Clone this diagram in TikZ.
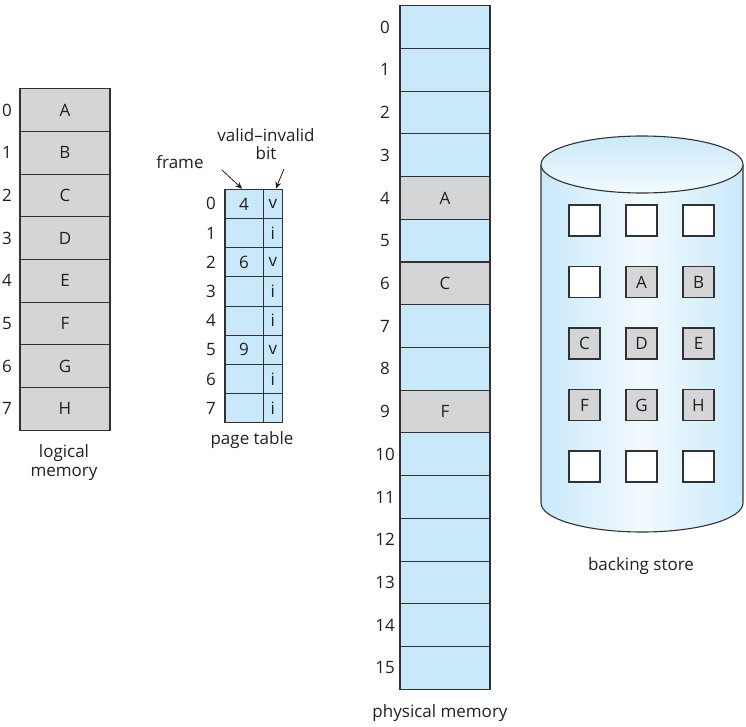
\documentclass[tikz,border=0pt]{standalone}
\usepackage{fontspec}
\setmainfont{Open Sans}
\usetikzlibrary{arrows.meta}
\definecolor{cellblue}{RGB}{201,233,250}
\definecolor{cellgray}{RGB}{212,213,215}
\definecolor{edge}{RGB}{50,50,52}
\definecolor{ink}{RGB}{35,31,32}
\begin{document}
\begin{tikzpicture}[x=1pt,y=-1pt,
  every node/.style={font=\fontsize{17}{20}\selectfont, text=ink},
  lmcell/.style={draw=edge, line width=1.1pt, fill=cellgray, minimum width=90pt, minimum height=42.7pt, inner sep=0pt},
  pmcell/.style={draw=edge, line width=1.1pt, fill=cellblue, minimum width=90pt, minimum height=42.73pt, inner sep=0pt},
  pmgray/.style={pmcell, fill=cellgray},
  ptframe/.style={draw=edge, line width=1.1pt, fill=cellblue, minimum width=38.3pt, minimum height=29.2pt, inner sep=0pt},
  ptbit/.style={draw=edge, line width=1.1pt, fill=cellblue, minimum width=19pt, minimum height=29.2pt, inner sep=0pt},
  bsq/.style={draw=edge, line width=1.1pt, fill=white, minimum size=31pt, inner sep=0pt},
  bsqg/.style={bsq, fill=cellgray},
  num/.style={inner sep=0pt},
  lbl/.style={inner sep=0pt, align=center},
  ptr/.style={-{Stealth[length=7pt,width=6pt]}, line width=0.8pt, draw=ink}
]
\useasboundingbox (0,0) rectangle (746,726);

% logical memory
\foreach \i/\t in {0/A,1/B,2/C,3/D,4/E,5/F,6/G,7/H}{
  \node[lmcell] (l\i) at (65,{110+42.7*\i}) {\t};
  \node[num] (ln\i) at (7,{110+42.7*\i}) {\i};
}
\node[lbl] (lmlabel) at (64,463) {logical\\[-1pt]memory};

% page table
\foreach \i/\f/\b in {0/4/v,1//i,2/6/v,3//i,4//i,5/9/v,6//i,7//i}{
  \node[ptframe] (f\i) at (244.1,{203.9+29.2*\i}) {\f};
  \node[ptbit] (b\i) at (272.8,{203.9+29.2*\i}) {\b};
  \node[num] (pn\i) at (211,{203.9+29.2*\i}) {\i};
}
\node[lbl] (ptlabel) at (252,440) {page table};
\node[lbl] (framelbl) at (180,162) {frame};
\node[lbl] (vilbl) at (266,144) {valid–invalid\\[-2pt]bit};
\coordinate (fs) at (222,170);
\coordinate (bs) at (284,169);
\draw[ptr] (fs) -- ([xshift=-2pt]f0.north);
\draw[ptr] (bs) -- ([xshift=3pt]b0.north);

% physical memory
\foreach \i/\t/\s in {0//pmcell,1//pmcell,2//pmcell,3//pmcell,4/A/pmgray,5//pmcell,6/C/pmgray,7//pmcell,8//pmcell,9/F/pmgray,10//pmcell,11//pmcell,12//pmcell,13//pmcell,14//pmcell,15//pmcell}{
  \node[\s] (p\i) at (445,{27+42.73*\i}) {\t};
  \node[num] (pmn\i) at (385,{27+42.73*\i}) {\i};
}
\node[lbl] (pmlabel) at (440,713) {physical memory};

% backing store cylinder
\shade[left color=cellblue, right color=cellblue, middle color=cellblue!25!white]
  (541,164.5) -- (541,503) arc[start angle=180, end angle=0, x radius=101, y radius=29] -- (743,164.5) -- cycle;
\draw[edge, line width=1.1pt]
  (541,164.5) -- (541,503) arc[start angle=180, end angle=0, x radius=101, y radius=29] -- (743,164.5);
\shade[draw=edge, line width=1.1pt, top color=cellblue, bottom color=cellblue!20!white]
  (642,164.5) ellipse[x radius=101, y radius=28.5];
\foreach \r/\a/\b/\c/\sa/\sb/\sc in {0////bsq/bsq/bsq,1//A/B/bsq/bsqg/bsqg,2/C/D/E/bsqg/bsqg/bsqg,3/F/G/H/bsqg/bsqg/bsqg,4////bsq/bsq/bsq}{
  \node[\sa] (s\r a) at (584.5,{220.5+61.5*\r}) {\a};
  \node[\sb] (s\r b) at (641.5,{220.5+61.5*\r}) {\b};
  \node[\sc] (s\r c) at (698.5,{220.5+61.5*\r}) {\c};
}
\node[lbl] (bslabel) at (641,566) {backing store};
\end{tikzpicture}
\end{document}
